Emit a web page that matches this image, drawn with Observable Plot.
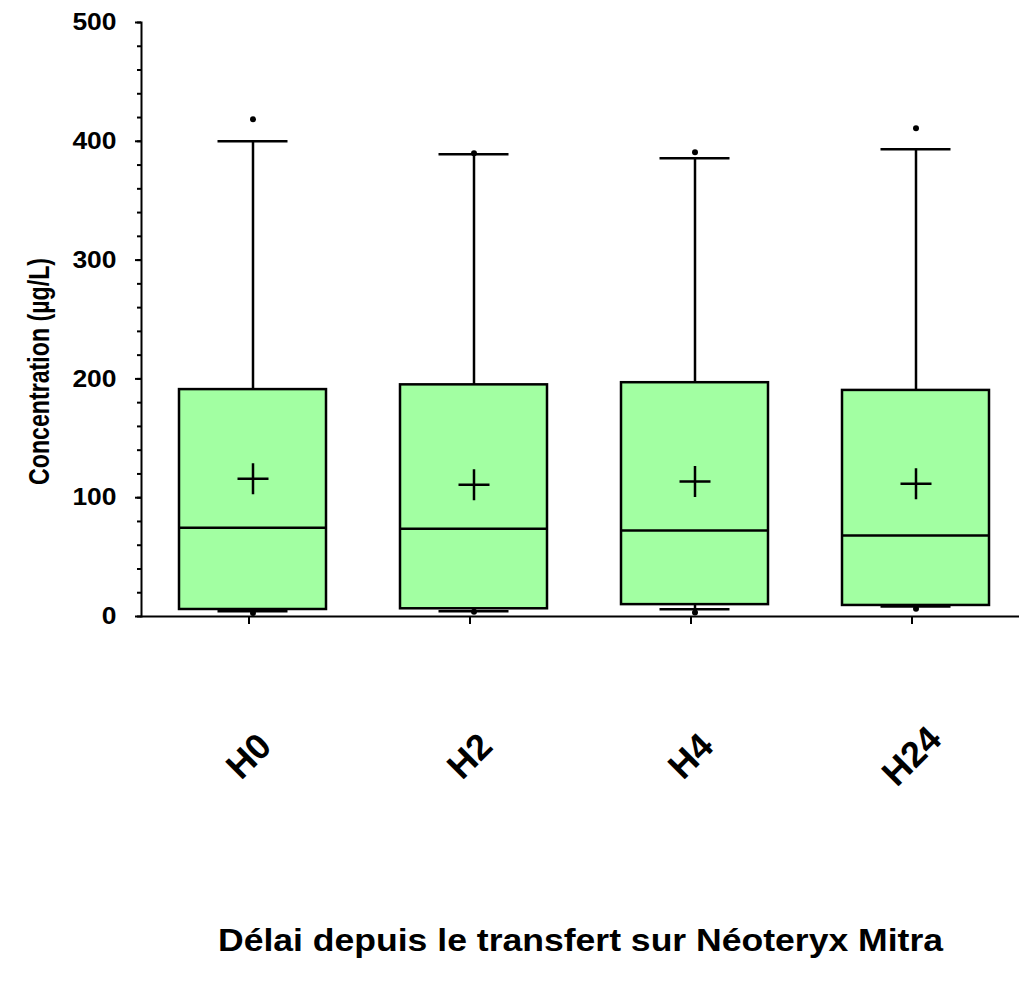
<!DOCTYPE html>
<html>
<head>
<meta charset="utf-8">
<script src="https://cdn.jsdelivr.net/npm/d3@7"></script>
<script src="https://cdn.jsdelivr.net/npm/@observablehq/plot@0.6"></script>
<style>
  html, body { margin: 0; padding: 0; background: #fff; }
  svg { display: block; }
</style>
</head>
<body>
<div id="chart"></div>
<script>
const categories = ["H0", "H2", "H4", "H24"];
const q1 = [5.9, 6.5, 10, 9.3];
const median = [74.7, 73.8, 72.4, 68.2];
const q3 = [191, 195, 196.8, 190.3];
const mean = [116, 111, 113.7, 111.7];
const whiskerLow = [4.5, 4.5, 6.1, 8.4];
const whiskerHigh = [400, 389, 385.7, 393.3];
const outlierCat = ["H0", "H0", "H2", "H2", "H4", "H4", "H24", "H24"];
const outlierVal = [418.5, 3.0, 390, 4.0, 390.7, 3.4, 411, 6.5];
const yMajorTicks = [0, 100, 200, 300, 400, 500];
const yMinorTicks = d3.range(0, 501, 20);
const xTitle = "Délai depuis le transfert sur Néoteryx Mitra";
const yTitle = "Concentration (µg/L)";

const rows = categories.map((c, i) => ({
  cat: c, q1: q1[i], med: median[i], q3: q3[i], mean: mean[i],
  lo: whiskerLow[i], hi: whiskerHigh[i]
}));
const outliers = outlierCat.map((c, i) => ({cat: c, v: outlierVal[i]}));

const plusSymbol = {
  draw(context, size) {
    const r = Math.sqrt(size / Math.PI);
    context.moveTo(-r, 0); context.lineTo(r, 0);
    context.moveTo(0, -r); context.lineTo(0, r);
  }
};

const font = "'Liberation Sans', Arial, Helvetica, sans-serif";
const capInset = 38.5;
const sw = 2.5;

const chart = Plot.plot({
  width: 1019,
  height: 984,
  marginLeft: 141,
  marginRight: 0,
  marginTop: 22,
  marginBottom: 368,
  style: {fontFamily: font, fontWeight: "bold", color: "black", background: "white"},
  x: {domain: categories, range: [141.5, 1025.5], paddingInner: 0.335, paddingOuter: 0.1675, label: null},
  y: {domain: [0, 500], label: null},
  marks: [
    Plot.ruleX(rows, {x: "cat", y1: "q3", y2: "hi", stroke: "black", strokeWidth: sw}),
    Plot.ruleX(rows, {x: "cat", y1: "lo", y2: "q1", stroke: "black", strokeWidth: sw}),
    Plot.tickY(rows, {x: "cat", y: "hi", stroke: "black", strokeWidth: sw, inset: capInset}),
    Plot.tickY(rows, {x: "cat", y: "lo", stroke: "black", strokeWidth: sw, inset: capInset}),
    Plot.barY(rows, {x: "cat", y1: "q1", y2: "q3", fill: "#a2ffa2", stroke: "black", strokeWidth: sw}),
    Plot.tickY(rows, {x: "cat", y: "med", stroke: "black", strokeWidth: sw}),
    Plot.dot(rows, {x: "cat", y: "mean", symbol: plusSymbol, r: 15.5, stroke: "black", strokeWidth: sw, fill: "none"}),
    Plot.dot(outliers, {x: "cat", y: "v", r: 3, fill: "black", stroke: "none"}),
    Plot.ruleY([0], {stroke: "black", strokeWidth: 2}),
    Plot.frame({anchor: "left", stroke: "black", strokeWidth: 2}),
    Plot.axisY({ticks: yMinorTicks, tickSize: 4, tickFormat: () => "", strokeWidth: 2, label: null}),
    Plot.axisY({ticks: yMajorTicks, tickSize: 6, tickPadding: 19, fontSize: 24, strokeWidth: 2, label: null}),
    Plot.axisX({tickSize: 8, tickRotate: -45, textAnchor: "middle", lineAnchor: "middle", tickPadding: 132, dx: -4, fontSize: 36, strokeWidth: 2, label: null}),
    Plot.text([xTitle], {frameAnchor: "bottom", dy: 334, fontSize: 32, fontWeight: "bold", fill: "black"}),
    Plot.text([yTitle], {frameAnchor: "left", textAnchor: "middle", dx: -102, dy: 52, rotate: -90, fontSize: 29, fontWeight: "bold", fill: "black"})
  ]
});
document.getElementById("chart").appendChild(chart);

// emulate the reference's anisotropic glyph proportions
d3.select(chart).selectAll('g[aria-label="y-axis tick label"] text').each(function() {
  const L = this.getComputedTextLength();
  this.setAttribute("textLength", (L * 1.1).toFixed(1));
  this.setAttribute("lengthAdjust", "spacingAndGlyphs");
});
d3.select(chart).selectAll('g[aria-label="text"] text').each(function() {
  const t = this.textContent;
  if (t === yTitle) { this.setAttribute("textLength", 227); this.setAttribute("lengthAdjust", "spacingAndGlyphs"); }
  if (t === xTitle) { this.setAttribute("textLength", 725); this.setAttribute("lengthAdjust", "spacingAndGlyphs"); }
});
</script>
</body>
</html>
